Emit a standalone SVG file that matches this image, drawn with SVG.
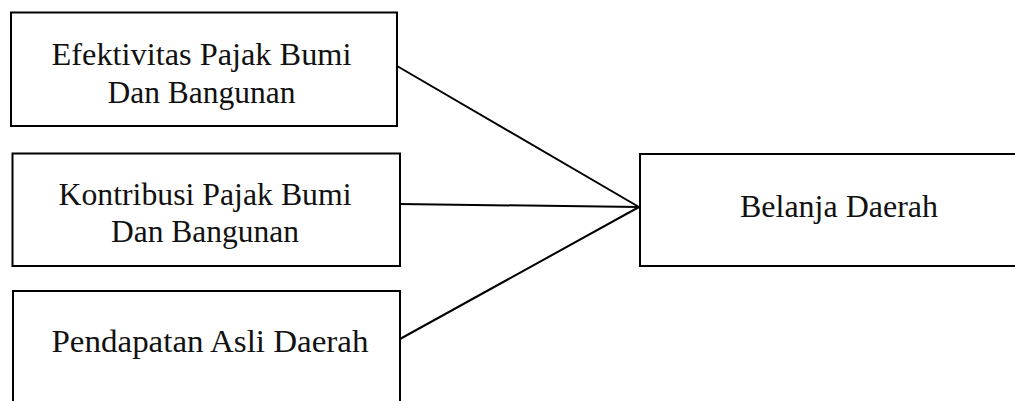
<svg xmlns="http://www.w3.org/2000/svg" width="1015" height="401" viewBox="0 0 1015 401">
<style>
.box{fill:#fff;stroke:#000;stroke-width:2}
.lbl{font-family:"Liberation Serif","Times New Roman",serif;font-size:31px;fill:#111;text-anchor:middle}
.con{stroke:#000;stroke-width:2;fill:none}
</style>
<rect width="1015" height="401" fill="#fff"/>
<g id="connectors">
<line class="con" x1="397" y1="66" x2="639" y2="207"/>
<line class="con" x1="400" y1="204" x2="639" y2="207"/>
<line class="con" x1="400" y1="339" x2="639" y2="207"/>
</g>
<g id="node-efektivitas">
<rect class="box" x="11" y="12.5" width="386" height="113.5"/>
<text class="lbl" x="201.5" y="64.5" textLength="300" lengthAdjust="spacingAndGlyphs">Efektivitas Pajak Bumi</text>
<text class="lbl" x="201.5" y="103" textLength="188" lengthAdjust="spacingAndGlyphs">Dan Bangunan</text>
</g>
<g id="node-kontribusi">
<rect class="box" x="12.5" y="153.5" width="387.5" height="112.5"/>
<text class="lbl" x="205" y="205" textLength="293" lengthAdjust="spacingAndGlyphs">Kontribusi Pajak Bumi</text>
<text class="lbl" x="205" y="242" textLength="188" lengthAdjust="spacingAndGlyphs">Dan Bangunan</text>
</g>
<g id="node-pad">
<rect class="box" x="13" y="291" width="387" height="130"/>
<text class="lbl" x="210" y="352" textLength="317" lengthAdjust="spacingAndGlyphs">Pendapatan Asli Daerah</text>
</g>
<g id="node-belanja">
<rect class="box" x="640" y="154" width="400" height="112"/>
<text class="lbl" x="839" y="216.5" textLength="198" lengthAdjust="spacingAndGlyphs">Belanja Daerah</text>
</g>
</svg>
